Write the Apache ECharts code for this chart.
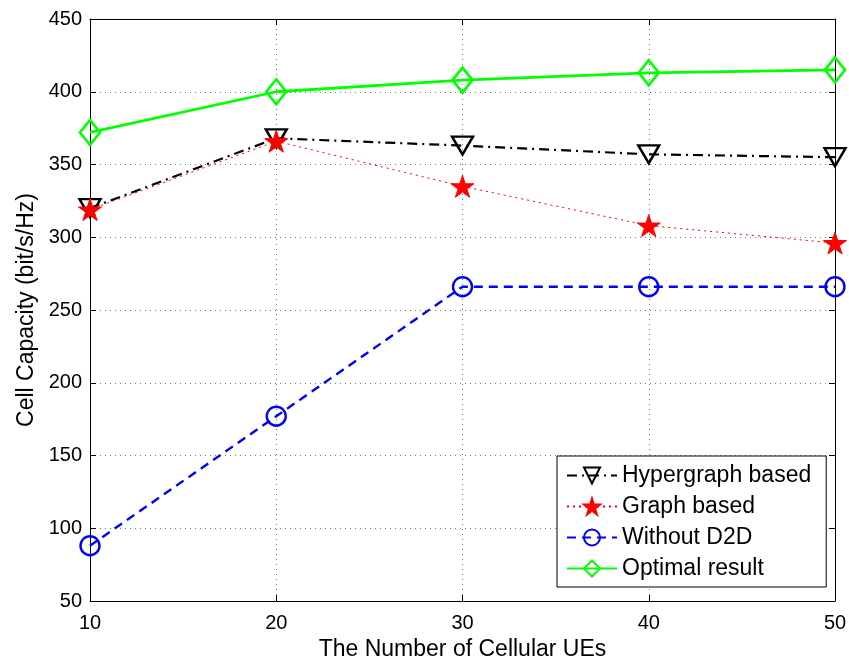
<!DOCTYPE html>
<html>
<head>
<meta charset="utf-8">
<script src="https://cdn.jsdelivr.net/npm/echarts@6/dist/echarts.min.js"></script>
<style>html,body{margin:0;padding:0;background:#fff;}#c{width:849px;height:658px;}</style>
</head>
<body>
<div id="c"></div>
<script>
var categories = [10, 20, 30, 40, 50];
var hypergraph = [320, 368, 363, 357, 355];
var graphBased = [319, 366, 335, 308, 296];
var withoutD2D = [88, 177, 266, 266, 266];
var optimal = [372, 400, 408, 413, 415];
var seriesNames = ['Hypergraph based', 'Graph based', 'Without D2D', 'Optimal result'];
var xTitle = 'The Number of Cellular UEs';
var yTitle = 'Cell Capacity (bit/s/Hz)';

var star = 'path://M100,0 L122.45,69.1 L195.1,69.1 L136.3,111.8 L158.8,180.9 L100,138.2 L41.2,180.9 L63.7,111.8 L4.9,69.1 L77.55,69.1 Z';
var font = 'Liberation Sans, Arial, Helvetica, sans-serif';

function pairs(arr){ return categories.map(function(c,i){ return [c, arr[i]]; }); }

var chart = echarts.init(document.getElementById('c'));
chart.setOption({
  animation: false,
  backgroundColor: '#fff',
  textStyle: {fontFamily: font},
  grid: {left: 90, right: 14, top: 19, bottom: 57, show: false, containLabel: false, outerBoundsMode: 'none'},
  legend: {
    orient: 'vertical',
    left: 557, top: 456,
    backgroundColor: '#fff',
    borderColor: '#000', borderWidth: 1, borderRadius: 0,
    padding: [8, 15, 7, 9],
    itemWidth: 50, itemHeight: 20, itemGap: 8,
    textStyle: {fontSize: 23, color: '#000', fontFamily: font},
    data: seriesNames
  },
  xAxis: [{
    type: 'value', min: 10, max: 50, interval: 10,
    name: xTitle, nameLocation: 'middle', nameGap: 32,
    nameTextStyle: {fontSize: 23, color: '#000', fontFamily: font},
    axisLine: {show: true, lineStyle: {color: '#000', width: 1}},
    axisTick: {show: true, inside: true, length: 6, lineStyle: {color: '#000'}},
    axisLabel: {fontSize: 20, color: '#000', margin: 12, fontFamily: font},
    splitLine: {show: true, lineStyle: {type: [1, 4], color: '#777', width: 1}}
  }, {
    type: 'value', min: 10, max: 50, interval: 10, position: 'top',
    axisLine: {show: true, onZero: false, lineStyle: {color: '#000', width: 1}},
    axisTick: {show: true, inside: true, length: 6, lineStyle: {color: '#000'}},
    axisLabel: {show: false}, splitLine: {show: false}
  }],
  yAxis: [{
    type: 'value', min: 50, max: 450, interval: 50,
    name: yTitle, nameLocation: 'middle', nameGap: 52,
    nameTextStyle: {fontSize: 23, color: '#000', fontFamily: font},
    axisLine: {show: true, lineStyle: {color: '#000', width: 1}},
    axisTick: {show: true, inside: true, length: 6, lineStyle: {color: '#000'}},
    axisLabel: {fontSize: 20, color: '#000', margin: 8, fontFamily: font},
    splitLine: {show: true, lineStyle: {type: [1, 4], color: '#777', width: 1}}
  }, {
    type: 'value', min: 50, max: 450, interval: 50, position: 'right',
    axisLine: {show: true, onZero: false, lineStyle: {color: '#000', width: 1}},
    axisTick: {show: true, inside: true, length: 6, lineStyle: {color: '#000'}},
    axisLabel: {show: false}, splitLine: {show: false}
  }],
  series: [{
    name: seriesNames[0], type: 'line', data: pairs(hypergraph),
    symbol: 'triangle', symbolRotate: 180, symbolSize: [21, 18],
    lineStyle: {color: '#000', width: 2.2, type: [10, 5, 2, 5]},
    itemStyle: {color: 'rgba(255,255,255,0)', borderColor: '#000', borderWidth: 2.4},
    z: 3
  }, {
    name: seriesNames[1], type: 'line', data: pairs(graphBased),
    symbol: star, symbolSize: 23, symbolKeepAspect: true,
    lineStyle: {color: '#ff0000', width: 1, type: [2, 4]},
    itemStyle: {color: '#ff0000', borderColor: '#ff0000', borderWidth: 1},
    z: 4
  }, {
    name: seriesNames[2], type: 'line', data: pairs(withoutD2D),
    symbol: 'circle', symbolSize: 19,
    lineStyle: {color: '#0000ff', width: 2.4, type: [9, 6]},
    itemStyle: {color: 'rgba(255,255,255,0)', borderColor: '#0000ff', borderWidth: 2.4},
    z: 3
  }, {
    name: seriesNames[3], type: 'line', data: pairs(optimal),
    symbol: 'diamond', symbolSize: [20, 25],
    lineStyle: {color: '#00ff00', width: 2.8, type: 'solid'},
    itemStyle: {color: 'rgba(255,255,255,0)', borderColor: '#00ff00', borderWidth: 2.6},
    z: 3
  }]
});
</script>
</body>
</html>
